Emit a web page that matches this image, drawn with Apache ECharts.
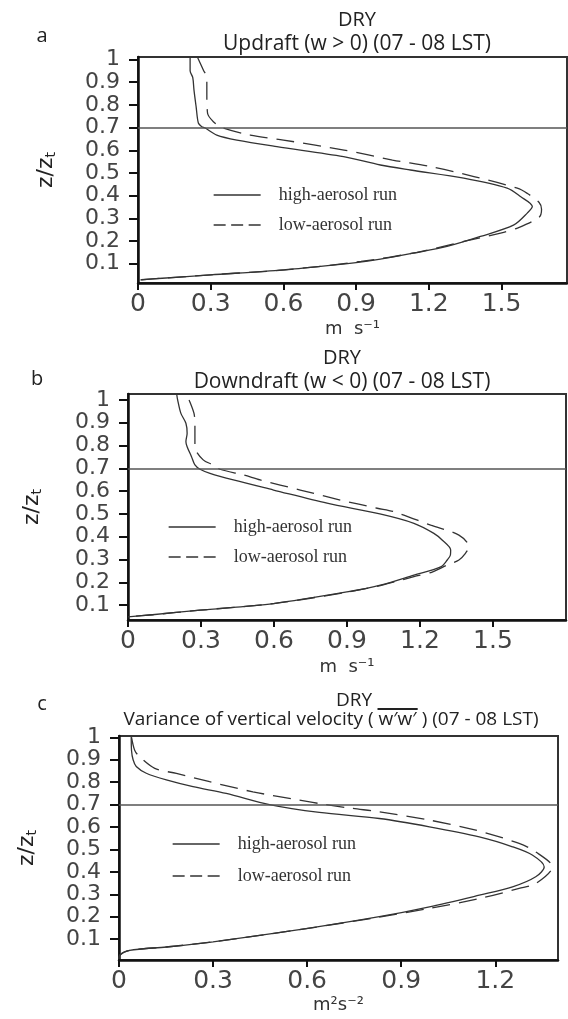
<!DOCTYPE html>
<html><head><meta charset="utf-8">
<script src="https://cdn.jsdelivr.net/npm/echarts@6/dist/echarts.min.js"></script>
<style>html,body{margin:0;padding:0;background:#fff}#c{width:568px;height:1019px}</style>
</head><body><div id="c"></div>
<script>
// ---- tick labels ----
const yTicks = [0.1, 0.2, 0.3, 0.4, 0.5, 0.6, 0.7, 0.8, 0.9, 1];
const xTicksAB = [0, 0.3, 0.6, 0.9, 1.2, 1.5];
const xTicksC = [0, 0.3, 0.6, 0.9, 1.2];
const seriesNames = ['high-aerosol run', 'low-aerosol run'];
const refLevel = 0.7;

// ---- data: [value, z/zi] ----
const updraftHigh = [[0.215,1.011],[0.215,0.95],[0.226,0.92],[0.231,0.865],[0.24,0.79],[0.249,0.72],[0.262,0.705],[0.277,0.698],[0.325,0.667],[0.408,0.645],[0.573,0.616],[0.848,0.572],[1.0,0.535],[1.124,0.513],[1.344,0.477],[1.523,0.433],[1.578,0.396],[1.627,0.352],[1.606,0.323],[1.551,0.271],[1.413,0.22],[1.275,0.176],[1.138,0.147],[1.0,0.12],[0.9,0.105],[0.6,0.073],[0.3,0.051],[0.1,0.036],[0.01,0.029]];
const updraftLow = [[0.245,1.011],[0.27,0.953],[0.284,0.92],[0.284,0.85],[0.287,0.763],[0.311,0.726],[0.346,0.7],[0.463,0.667],[0.6,0.645],[0.85,0.601],[1.05,0.557],[1.207,0.528],[1.386,0.484],[1.565,0.433],[1.606,0.41],[1.655,0.37],[1.665,0.34],[1.655,0.305],[1.565,0.257],[1.496,0.235],[1.344,0.198],[1.15,0.15],[0.92,0.11],[0.61,0.073],[0.3,0.051],[0.1,0.036],[0.01,0.029]];
const downdraftHigh = [[0.2,1.026],[0.204,1.0],[0.217,0.942],[0.238,0.898],[0.243,0.854],[0.238,0.817],[0.243,0.795],[0.261,0.751],[0.275,0.715],[0.296,0.696],[0.337,0.678],[0.433,0.649],[0.598,0.605],[0.818,0.547],[1.035,0.5],[1.175,0.459],[1.257,0.415],[1.292,0.385],[1.326,0.342],[1.325,0.32],[1.312,0.298],[1.285,0.268],[1.175,0.232],[1.037,0.188],[0.9,0.158],[0.598,0.107],[0.296,0.078],[0.1,0.058],[0,0.049]];
const downdraftLow = [[0.251,1.0],[0.271,0.942],[0.275,0.898],[0.275,0.795],[0.309,0.737],[0.35,0.715],[0.378,0.696],[0.474,0.671],[0.543,0.649],[0.708,0.605],[0.873,0.561],[1.024,0.525],[1.092,0.51],[1.244,0.451],[1.36,0.407],[1.401,0.356],[1.385,0.325],[1.36,0.298],[1.312,0.276],[1.25,0.245],[1.175,0.225],[1.037,0.186],[0.9,0.157],[0.598,0.107],[0.296,0.078],[0.1,0.058],[0,0.049]];
const varianceHigh = [[0.039,1.006],[0.04,0.94],[0.045,0.9],[0.055,0.87],[0.087,0.84],[0.151,0.81],[0.236,0.78],[0.342,0.75],[0.48,0.7],[0.639,0.665],[0.83,0.638],[0.99,0.601],[1.149,0.556],[1.255,0.512],[1.318,0.475],[1.356,0.422],[1.329,0.378],[1.255,0.333],[1.149,0.296],[0.99,0.244],[0.83,0.2],[0.597,0.147],[0.3,0.088],[0.151,0.065],[0.034,0.05],[0.002,0.028],[0,0.012]];
const varianceLow = [[0.04,1.0],[0.05,0.943],[0.066,0.913],[0.114,0.862],[0.183,0.839],[0.289,0.802],[0.427,0.757],[0.575,0.72],[0.66,0.7],[0.745,0.683],[0.83,0.668],[0.99,0.631],[1.138,0.586],[1.276,0.527],[1.329,0.489],[1.382,0.422],[1.329,0.348],[1.276,0.326],[1.149,0.281],[0.99,0.237],[0.83,0.198],[0.597,0.147],[0.3,0.088],[0.151,0.065],[0.034,0.05],[0.002,0.028],[0,0.012]];

// ---- layout ----
const panels = [
  {grid:{left:138, top:57, width:429, height:226}, x:[0,1.77], y:[0.015,1.011], xt:xTicksAB, unit:'m  s\u207B\u00B9', nameGap:37, yGap:80,
   data:[updraftHigh, updraftLow], legend:{left:213, top:186, gap:12}},
  {grid:{left:128, top:394, width:438, height:226}, x:[0,1.80], y:[0.035,1.026], xt:xTicksAB, unit:'m  s\u207B\u00B9', nameGap:38, yGap:84,
   data:[downdraftHigh, downdraftLow], legend:{left:168, top:518, gap:12}},
  {grid:{left:119, top:736, width:439, height:224}, x:[0,1.4], y:[0.007,1.006], xt:xTicksC, unit:'m\u00B2s\u207B\u00B2', nameGap:36, yGap:80,
   data:[varianceHigh, varianceLow], legend:{left:172, top:835, gap:14}}
];

const ink = '#333';
const grids = [], xAxes = [], yAxes = [], series = [], legends = [];
panels.forEach((p, i) => {
  grids.push(Object.assign({show:true, borderColor:'#333', borderWidth:2, containLabel:false}, p.grid));
  xAxes.push({gridIndex:i, type:'value', min:p.x[0], max:p.x[1],
    axisLine:{show:true, onZero:false, lineStyle:{color:'#111', width:2.5}},
    axisTick:{show:true, length:7, inside:false, customValues:p.xt, lineStyle:{color:'#111', width:2}},
    axisLabel:{customValues:p.xt, fontSize:25, color:'#444', fontFamily:'DejaVu Sans', margin:9},
    splitLine:{show:false},
    name:p.unit, nameLocation:'middle', nameGap:p.nameGap,
    nameTextStyle:{fontSize:18, color:'#333', fontFamily:'DejaVu Sans'}});
  yAxes.push({gridIndex:i, type:'value', min:p.y[0], max:p.y[1],
    axisLine:{show:true, onZero:false, lineStyle:{color:'#111', width:2.5}},
    axisTick:{show:true, length:9, inside:false, customValues:yTicks, lineStyle:{color:'#111', width:2}},
    axisLabel:{customValues:yTicks, fontSize:22, color:'#444', fontFamily:'DejaVu Sans', margin:18},
    splitLine:{show:false},
    name:'z/z{t|t}', nameLocation:'middle', nameGap:p.yGap,
    nameTextStyle:{fontSize:22, color:'#222', fontFamily:'DejaVu Sans',
      rich:{t:{fontSize:14, color:'#222', fontFamily:'DejaVu Sans', padding:[10,0,0,0]}}}});
  p.data.forEach((d, k) => {
    const s = {type:'line', name:seriesNames[k], xAxisIndex:i, yAxisIndex:i, data:d,
      symbol:'none', smooth:0.3, animation:false, silent:true,
      lineStyle:{color:ink, width:1.3, type: k === 0 ? 'solid' : [18, 9]},
      itemStyle:{color:ink}};
    if (k === 0) {
      s.markLine = {silent:true, symbol:['none','none'], animation:false, label:{show:false},
        lineStyle:{color:'#555', width:1.6, type:'solid'}, data:[{yAxis:refLevel}]};
    }
    series.push(s);
  });
  legends.push({orient:'vertical', left:p.legend.left, top:p.legend.top, padding:0,
    itemGap:p.legend.gap, itemWidth:47, itemHeight:14,
    data:[{name:seriesNames[0]}, {name:seriesNames[1], lineStyle:{type:[12, 5.5]}}],
    selectedMode:false,
    itemStyle:{opacity:0},
    lineStyle:{width:1.3},
    textStyle:{fontFamily:'Liberation Serif', fontSize:18, color:'#333', lineHeight:16, padding:[0,0,0,13]}});
});

// ---- titles ----
const titles = [
  {lines:['DRY', 'Updraft (w > 0) (07 - 08 LST)'], sizes:[20, 21], cx:[357, 357], cy:[20, 44], letter:'a', lx:42, ly:36},
  {lines:['DRY', 'Downdraft (w < 0) (07 - 08 LST)'], sizes:[20, 21], cx:[342, 342], cy:[358, 382], letter:'b', lx:37, ly:379},
  {lines:['DRY', "Variance of vertical velocity ( w\u2032w\u2032 ) (07 - 08 LST)"], sizes:[19, 19], cx:[354, 331], cy:[701, 720], letter:'c', lx:42, ly:704}
];
const fontOf = s => s + 'px "Open Sans"';
const graphics = [];
titles.forEach(t => {
  t.lines.forEach((txt, j) => {
    graphics.push({type:'text', x:t.cx[j], y:t.cy[j], silent:true,
      style:{text:txt, font:fontOf(t.sizes[j]), fill:'#222', align:'center', verticalAlign:'middle', textAlign:'center', textVerticalAlign:'middle'}});
  });
  graphics.push({type:'text', x:t.lx, y:t.ly, silent:true,
    style:{text:t.letter, font:'20px "Open Sans"', fill:'#222', align:'center', verticalAlign:'middle', textAlign:'center', textVerticalAlign:'middle'}});
});
// overline over w'w'
(function(){
  const mctx = document.createElement('canvas').getContext('2d');
  mctx.font = fontOf(titles[2].sizes[1]);
  const full = titles[2].lines[1];
  const pre = "Variance of vertical velocity ( ";
  const W = mctx.measureText(full).width;
  const P = mctx.measureText(pre).width;
  const Q = mctx.measureText("w\u2032w\u2032").width;
  const x0 = titles[2].cx[1] - W / 2 + P;
  graphics.push({type:'line', silent:true, shape:{x1:x0 - 1, y1:709, x2:x0 + Q + 1, y2:709}, style:{stroke:'#222', lineWidth:2}});
})();

const chart = echarts.init(document.getElementById('c'), null, {renderer:'canvas'});
chart.setOption({
  backgroundColor:'#fff', animation:false,
  grid:grids, xAxis:xAxes, yAxis:yAxes, series:series, legend:legends, graphic:graphics
});
</script></body></html>
